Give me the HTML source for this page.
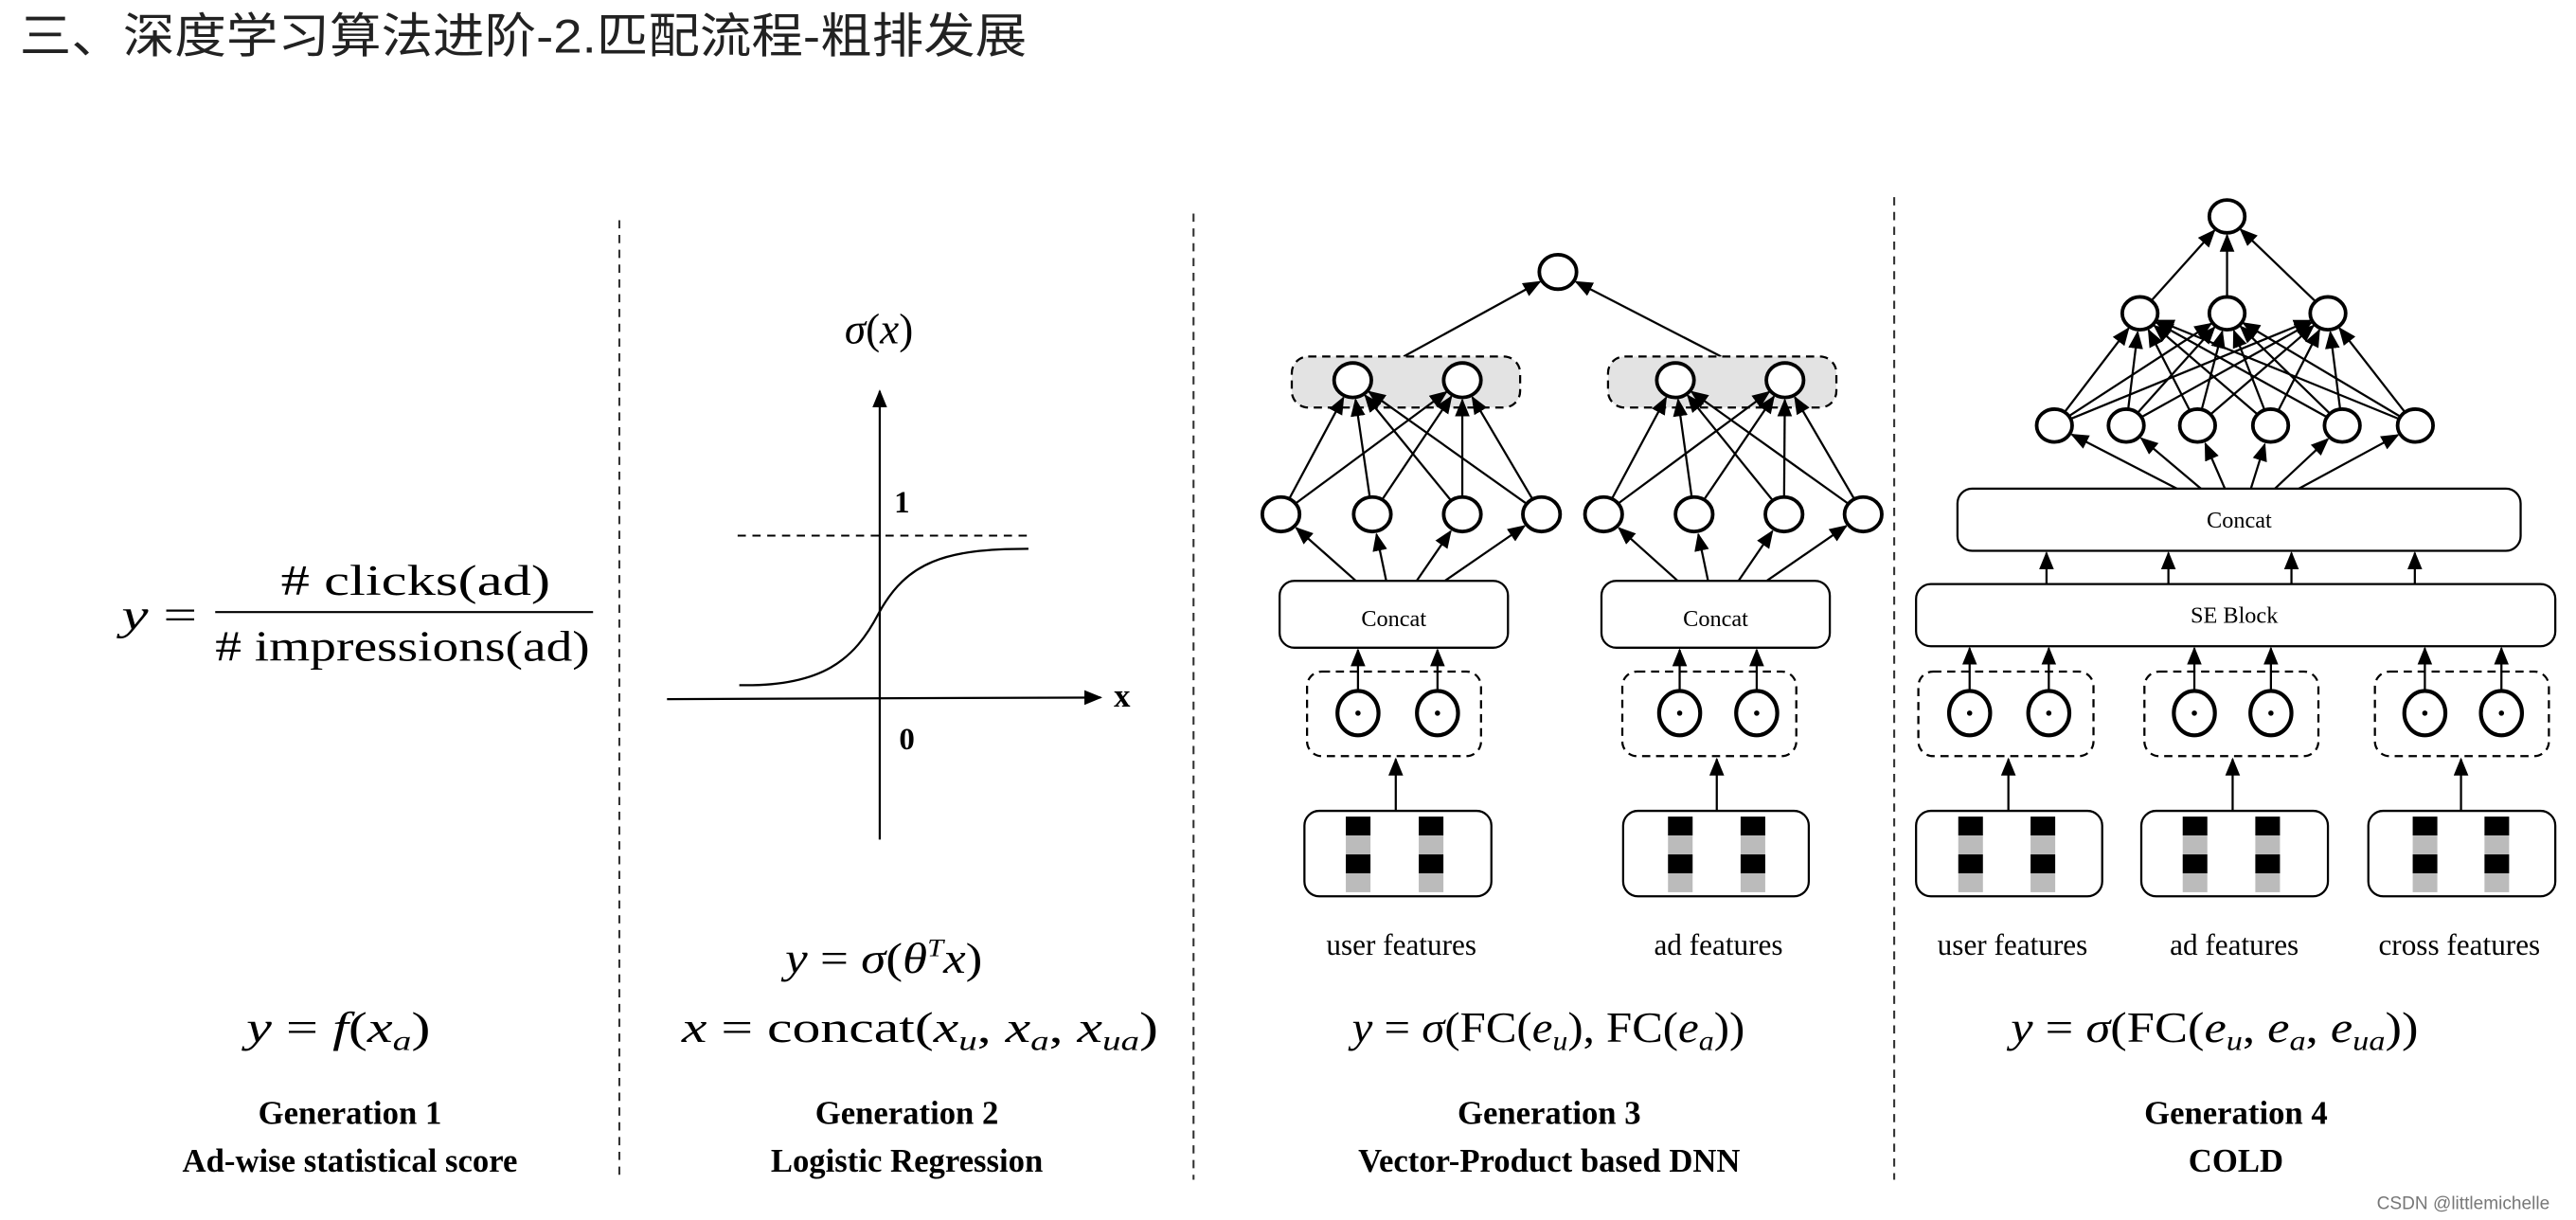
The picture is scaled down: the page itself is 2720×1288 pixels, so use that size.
<!DOCTYPE html>
<html><head><meta charset="utf-8">
<style>
html,body{margin:0;padding:0;background:#fff;}
svg{display:block;}
.serif{font-family:"Liberation Serif",serif;}
.it{font-style:italic;}
</style></head>
<body>
<svg id="s" width="2720" height="1288" viewBox="0 0 1568 742.5" preserveAspectRatio="none" xmlns="http://www.w3.org/2000/svg">
<defs>
<marker id="ah" markerUnits="userSpaceOnUse" markerWidth="12" markerHeight="10" refX="10" refY="4.5" orient="auto">
<path d="M0,0 L11,4.5 L0,9 z" fill="#000"/>
</marker>
</defs>
<rect width="1568" height="742.5" fill="#fff"/>
<text x="12" y="32" font-family="'Liberation Sans','Noto Sans CJK SC',sans-serif" font-size="29" fill="#222" textLength="613" lengthAdjust="spacingAndGlyphs">三、深度学习算法进阶-2.匹配流程-粗排发展</text>

<!-- dividers -->
<g stroke="#333" stroke-width="1.2" stroke-dasharray="5,4">
<line x1="377" y1="134" x2="377" y2="718"/>
<line x1="726.5" y1="130" x2="726.5" y2="718"/>
<line x1="1153" y1="120" x2="1153" y2="718"/>
</g>

<!-- Gen1 -->
<g class="serif" font-size="26" fill="#000">
<text x="74" y="383" textLength="46" lengthAdjust="spacingAndGlyphs"><tspan class="it">y</tspan> =</text>
<text x="171" y="362" textLength="164" lengthAdjust="spacingAndGlyphs"># clicks(ad)</text>
<line x1="131" y1="372.5" x2="361" y2="372.5" stroke="#000" stroke-width="1.2"/>
<text x="131" y="402" textLength="228" lengthAdjust="spacingAndGlyphs"># impressions(ad)</text>
<text x="150" y="634" textLength="112" lengthAdjust="spacingAndGlyphs"><tspan class="it">y</tspan> = <tspan class="it">f</tspan>(<tspan class="it">x</tspan><tspan class="it" font-size="17" dy="5">a</tspan><tspan dy="-5">)</tspan></text>
</g>

<!-- Gen2 -->
<g class="serif" fill="#000">
<text x="535" y="209" text-anchor="middle" font-size="26"><tspan class="it">σ</tspan>(<tspan class="it">x</tspan>)</text>
<line x1="535.5" y1="511" x2="535.5" y2="238" stroke="#000" stroke-width="1.3" marker-end="url(#ah)"/>
<line x1="406" y1="425.5" x2="670" y2="424.5" stroke="#000" stroke-width="1.3" marker-end="url(#ah)"/>
<line x1="449" y1="326" x2="625" y2="326" stroke="#000" stroke-width="1.1" stroke-dasharray="5,4"/>
<path d="M450,417 C500,418 520,402 535,373 C552,342 575,334 626,334" fill="none" stroke="#000" stroke-width="1.3"/>
<text x="549" y="312" text-anchor="middle" font-size="19" font-weight="bold">1</text>
<text x="552" y="456" text-anchor="middle" font-size="19" font-weight="bold">0</text>
<text x="683" y="430" text-anchor="middle" font-size="20" font-weight="bold">x</text>
<text x="478" y="592" font-size="26" textLength="120" lengthAdjust="spacingAndGlyphs"><tspan class="it">y</tspan> = <tspan class="it">σ</tspan>(<tspan class="it">θ</tspan><tspan class="it" font-size="15" dy="-10">T</tspan><tspan class="it" dy="10">x</tspan>)</text>
<text x="415" y="634" font-size="26" textLength="290" lengthAdjust="spacingAndGlyphs"><tspan class="it">x</tspan> = concat(<tspan class="it">x</tspan><tspan class="it" font-size="17" dy="5">u</tspan><tspan dy="-5">, </tspan><tspan class="it">x</tspan><tspan class="it" font-size="17" dy="5">a</tspan><tspan dy="-5">, </tspan><tspan class="it">x</tspan><tspan class="it" font-size="17" dy="5">ua</tspan><tspan dy="-5">)</tspan></text>
</g>

<!-- Gen3/4 formulas -->
<g class="serif" font-size="26" fill="#000">
<text x="823" y="634" textLength="239" lengthAdjust="spacingAndGlyphs"><tspan class="it">y</tspan> = <tspan class="it">σ</tspan>(FC(<tspan class="it">e</tspan><tspan class="it" font-size="17" dy="5">u</tspan><tspan dy="-5">), FC(</tspan><tspan class="it">e</tspan><tspan class="it" font-size="17" dy="5">a</tspan><tspan dy="-5">))</tspan></text>
<text x="1224" y="634" textLength="248" lengthAdjust="spacingAndGlyphs"><tspan class="it">y</tspan> = <tspan class="it">σ</tspan>(FC(<tspan class="it">e</tspan><tspan class="it" font-size="17" dy="5">u</tspan><tspan dy="-5">, </tspan><tspan class="it">e</tspan><tspan class="it" font-size="17" dy="5">a</tspan><tspan dy="-5">, </tspan><tspan class="it">e</tspan><tspan class="it" font-size="17" dy="5">ua</tspan><tspan dy="-5">))</tspan></text>
</g>

<!-- titles -->
<g class="serif" font-size="20" font-weight="bold" fill="#000" text-anchor="middle">
<text x="213" y="684">Generation 1</text><text x="213" y="713">Ad-wise  statistical score</text>
<text x="552" y="684">Generation 2</text><text x="552" y="713">Logistic Regression</text>
<text x="943" y="684">Generation 3</text><text x="943" y="713">Vector-Product based DNN</text>
<text x="1361" y="684">Generation 4</text><text x="1361" y="713">COLD</text>
</g>
<g class="serif" font-size="18" fill="#000" text-anchor="middle">
<text x="853" y="581">user features</text><text x="1046" y="581">ad features</text>
<text x="1225" y="581">user features</text><text x="1360" y="581">ad features</text><text x="1497" y="581">cross features</text>
</g>
<text x="1552" y="736" text-anchor="end" font-family="'Liberation Sans',sans-serif" font-size="11" fill="#777">CSDN @littlemichelle</text>

<g id="net"></g>
</svg>
<script>
var NS="http://www.w3.org/2000/svg",g=document.getElementById("net");
function el(t,a,txt){var e=document.createElementNS(NS,t);for(var k in a)e.setAttribute(k,a[k]);if(txt)e.textContent=txt;g.appendChild(e);return e;}
function circ(x,y,r){el("ellipse",{cx:x,cy:y,rx:r*1.08,ry:r,fill:"#fff",stroke:"#000","stroke-width":2.2});}
function line(x1,y1,x2,y2,arrow){var a={x1:x1,y1:y1,x2:x2,y2:y2,stroke:"#000","stroke-width":1.3};if(arrow)a["marker-end"]="url(#ah)";el("line",a);}
function nn(a,b,r1,r2){var dx=b[0]-a[0],dy=b[1]-a[1],d=Math.hypot(dx,dy);var ux=dx/d,uy=dy/d;
 line(a[0]+ux*r1,a[1]+uy*r1,b[0]-ux*(r2+1.5),b[1]-uy*(r2+1.5),true);}
function rbox(x1,y1,x2,y2,rad,dash,fill){var a={x:x1,y:y1,width:x2-x1,height:y2-y1,rx:rad,ry:rad,fill:fill||"#fff",stroke:"#000","stroke-width":1.3};if(dash)a["stroke-dasharray"]="5,3.5";el("rect",a);}
function dotc(x,y){el("ellipse",{cx:x,cy:y,rx:12.5,ry:13.5,fill:"#fff",stroke:"#000","stroke-width":2.4});el("circle",{cx:x,cy:y,r:1.6,fill:"#000"});}
function feat(x1,x2,bars){rbox(x1,493.5,x2,545.5,9);bars.forEach(function(b){
 el("rect",{x:b,y:497,width:15,height:11.5,fill:"#000"});el("rect",{x:b,y:508.5,width:15,height:11.5,fill:"#bbb"});
 el("rect",{x:b,y:520,width:15,height:11.5,fill:"#000"});el("rect",{x:b,y:531.5,width:15,height:11.5,fill:"#bbb"});});}
function txt(x,y,s){el("text",{x:x,y:y,"text-anchor":"middle","font-family":"Liberation Serif, serif","font-size":14},s);}

var top3=[948.3,165.5];
line(854.4,217,top3[0]-11,top3[1]+6,true);
line(1047.6,217,top3[0]+11,top3[1]+6,true);
circ(top3[0],top3[1],10.5);
[0,195.9].forEach(function(o){
 rbox(786.3+o+(o?-3.4:0),217,925.3+o+(o?-3.4:0),248,10,true,"#e3e3e3");
 var gx=o?[1019.8,1086.5]:[823.4,890.1];
 var mx=o?[976.1,1031.2,1085.9,1134.1]:[779.7,835.3,890.1,938.3];
 gx.forEach(function(x){mx.forEach(function(m){nn([m,313],[x,231.4],10.5,10.5);});});
 gx.forEach(function(x){circ(x,231.4,10.5);});
 var cx1=778.9+o,cx2=917.9+o;
 rbox(cx1,353.5,cx2,394.2,9);txt((cx1+cx2)/2,381,"Concat");
 var sx=[825.3,843.8,862.3,879.5];
 mx.forEach(function(m,i){var s=[sx[i]+o,353.5];var dx=m-s[0],dy=313-s[1],d=Math.hypot(dx,dy);line(s[0],s[1],m-dx/d*12.5,313-dy/d*12.5,true);});
 mx.forEach(function(m){circ(m,313,10.5);});
 var b1=795.6+o-(o?4:0),b2=901.5+o-(o?4:0);
 rbox(b1,408.7,b2,460.2,9,true);
 var dx=o?[1022.4,1069.3]:[826.6,875];
 dx.forEach(function(x){line(x,420,x,395.5,true);dotc(x,434);});
 var fx=o?1045:849.6;
 line(fx,493.5,fx,462,true);
 if(!o)feat(794,907.8,[819.2,863.6]);else feat(988,1101,[1015.3,1059.5]);
});

var T=[1355.6,131.7],L2=[[1302.6,190.7],[1355.6,190.7],[1417,190.7]];
var L1=[1250.5,1294.2,1337.6,1382.1,1425.7,1470.2].map(function(x){return [x,259];});
L2.forEach(function(p){nn(p,T,10,10);});
L1.forEach(function(a){L2.forEach(function(b){nn(a,b,10,10);});});
circ(T[0],T[1],10);L2.forEach(function(p){circ(p[0],p[1],10);});
rbox(1191.5,297.4,1534.3,335.2,9);txt(1363,321,"Concat");
var cs=[1325.1,1339.7,1354.3,1370.1,1384.7,1399.3];
L1.forEach(function(p,i){var s=[cs[i],297.4];var dx=p[0]-s[0],dy=p[1]-s[1],d=Math.hypot(dx,dy);line(s[0],s[1],p[0]-dx/d*12,p[1]-dy/d*12,true);});
L1.forEach(function(p){circ(p[0],p[1],10);});
rbox(1166.3,355.5,1555.4,393.3,9);txt(1360,379,"SE Block");
[1245.7,1319.9,1394.8,1469.9].forEach(function(x){line(x,355.5,x,336.5,true);});
[[1167.7,1274.3,1198.9,1247.1,1222.5,1166.3,1279.6,[1192,1236]],
 [1305.3,1411.2,1335.7,1382.3,1359,1303.4,1417,[1328.6,1372.8]],
 [1445.6,1551.5,1476,1522.6,1498,1441.6,1555.4,[1468.6,1512.3]]].forEach(function(c){
 rbox(c[0],408.7,c[1],460.2,9,true);
 [c[2],c[3]].forEach(function(x){line(x,420,x,394.5,true);dotc(x,434);});
 line(c[4],493.5,c[4],462,true);
 feat(c[5],c[6],c[7]);
});
</script>
</body></html>
